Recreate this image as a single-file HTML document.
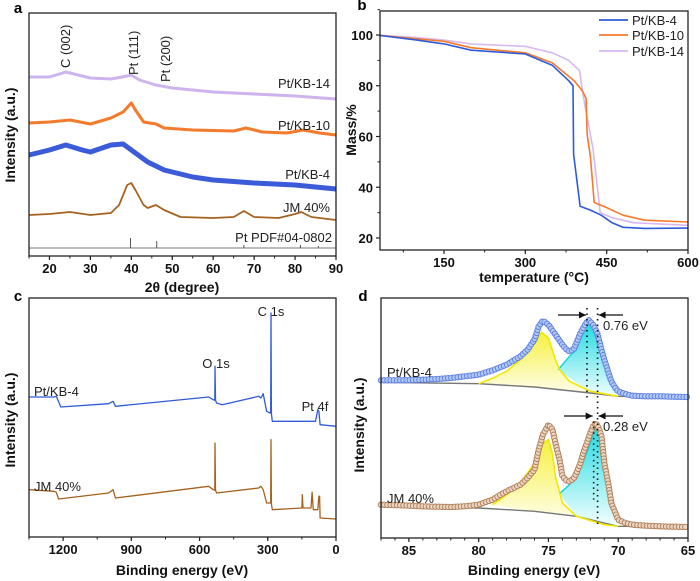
<!DOCTYPE html>
<html><head><meta charset="utf-8">
<style>
html,body{margin:0;padding:0;background:#fff;}
svg{display:block;font-family:"Liberation Sans",Arial,sans-serif;}
.tk{font-size:13px;font-weight:bold;fill:#111;}
.tt{font-size:14px;font-weight:bold;fill:#111;}
.lb{font-size:13px;fill:#222;}
.pl{font-size:15px;font-weight:bold;fill:#000;}
</style></head>
<body>
<svg id="fig" width="700" height="581" viewBox="0 0 700 581" xmlns="http://www.w3.org/2000/svg">
<defs>
<linearGradient id="gy" x1="0" y1="0" x2="0" y2="1"><stop offset="0" stop-color="#f6f040"/><stop offset="1" stop-color="#fffff4"/></linearGradient>
<linearGradient id="gc" x1="0" y1="0" x2="0" y2="1"><stop offset="0" stop-color="#18d8e0"/><stop offset="1" stop-color="#f4ffff"/></linearGradient>
</defs>
<g id="pa"></g><g id="pb"></g><g id="pc"></g><g id="pd"></g>
</svg>
<script>
// ---------- Panel a: XRD ----------
const xrdKB14X=[15,20,24,30,35,39,40,42,46,50,60,70,80,90];
const xrdKB14Y=[179,179,184,178,177,180,181,176,171,168,164,162,160,157];
const xrdKB10X=[15,20,25,30,35,38,40,41,43,46,48,55,65,68,72,78,82,86,90];
const xrdKB10Y=[133,134,136,132,138,144,153,146,134,132,128,126,125,128,124,123,126,123,121];
const xrdKB4X=[15,20,24,28,30,35,38,40,44,48,55,60,70,80,90];
const xrdKB4Y=[101,106,111,106,104,111,112,106,94,86,79,76,73,71,67];
const xrdJMX=[15,20,25,30,35,37,39,40,41,43,44,46,48,52,60,65,67.5,70,76,80,81.5,84,90];
const xrdJMY=[41,42,44,41,43,51,71,73,66,51,48,51,46,39,38,39,45,39,38,42,44,39,36];
const pdfPos=[39.8,46.2,67.5,81.3,85.7];
const pdfInt=[18,15,11,11,10];
const aTicks=[20,30,40,50,60,70,80,90];

// ---------- Panel b: TGA ----------
const tgaKB4T=[32,100,150,200,300,350,380,388,389,392,401,420,440,460,480,520,600];
const tgaKB4M=[99.8,98,96.5,94,92.5,88,82,80,53,48,32.5,31,29,26,24.2,23.8,23.9];
const tgaKB10T=[32,100,150,200,300,350,390,405,412,414,420,427,450,480,520,600];
const tgaKB10M=[99.8,98.5,97.5,95,93,89,82,78,75,61,52,34,32,29,27,26.3];
const tgaKB14T=[32,100,150,200,300,350,380,400,404,410,425,438,460,500,600];
const tgaKB14M=[99.9,99,98,96.5,95.5,93,90,86,80,72,55,30,28,26,25];
const bXTicks=[150,300,450,600];
const bYTicks=[20,40,60,80,100];

// ---------- Panel c: XPS survey ----------
const surKB4E=[1350,1240,1230,1210,1000,980,970,560,540,533,532,530,525,500,340,330,320,305,290,287,286,284,280,150,90,80,75,70,0];
const surKB4I=[420,420,422,390,400,407,392,420,412,410,512,410,402,397,422,417,430,377,372,372,672,370,347,347,347,382,377,337,332];
const surJME=[1350,1240,1230,1220,1000,980,970,560,540,533,532,530,525,340,330,320,305,290,287,286,284,280,150,148,145,110,105,100,80,75,72,70,0];
const surJMI=[142,137,134,114,132,142,117,152,142,140,282,140,132,147,152,142,102,102,102,292,100,82,87,127,87,87,134,82,82,122,122,57,54];
const cTicks=[1200,900,600,300,0];

// ---------- Panel d: Pt 4f ----------
const dKB4E=[87,85.5,84,83,82,81,80,79,78,77,76.5,76,75.7,75.4,75,74.5,74,73.7,73.5,73.2,73,72.7,72.5,72.3,72.1,71.8,71.5,71.2,71,70.7,70.5,70.2,70,69.5,69,68,67,66,65];
const dKB4I=[473,473,475,477,480,485,490,503,520,545,565,595,635,652,640,610,580,565,560,565,585,615,630,645,653,640,615,565,535,495,470,450,440,432,427,425,425,424,423];
const dKB4Fit=[[80,79,78,77,76,75.5,75,74.5,74.2,73.5,72,70],[463,479,500,535,585,617,600,535,505,470,440,425]];
const dKB4Cyan=[[74.3,73.5,73,72.5,72.1,71.5,71,70.5,70,69],[505,545,565,625,653,595,525,465,435,423]];
const dKB4Base=[[87,80,76,72,70,65],[467,463,453,435,425,423]];
const dJME=[87,85.5,84,83,82,81,80,79.5,79,78.5,78,77.5,77,76.5,76,75.7,75.4,75,74.7,74.5,74.2,74,73.7,73.5,73.2,73,72.7,72.5,72.2,72,71.8,71.6,71.4,71.2,71,70.7,70.5,70.2,70,69.5,69,68,67,66,65];
const dJMI=[100,98,95,94,93,95,100,108,115,128,140,150,160,180,205,265,310,340,325,285,235,185,172,170,178,195,225,255,290,315,335,345,330,305,225,160,105,75,55,45,40,37,35,34,33];
const dJMFit=[[79,78,77,76,75.5,75,74.7,74.5,74,73,71,70],[100,130,165,225,280,295,250,185,105,65,40,35]];
const dJMCyan=[[74.2,73.5,73,72.5,72,71.6,71.2,70.8,70.4,70],[133,160,185,230,285,345,275,165,85,55]];
const dJMBase=[[87,80,76,73,71,70,65],[95,90,80,65,45,35,33]];
const dTicks=[85,80,75,70,65];

const NS="http://www.w3.org/2000/svg";
function mk(parent,tag,attrs,txt){const e=document.createElementNS(NS,tag);for(const k in attrs)e.setAttribute(k,attrs[k]);if(txt!==undefined)e.textContent=txt;parent.appendChild(e);return e;}
function lin(d0,d1,r0,r1){return v=>r0+(v-d0)*(r1-r0)/(d1-d0);}
function path(xs,ys,sx,sy){return xs.map((x,i)=>(i?"L":"M")+sx(x).toFixed(1)+","+sy(ys[i]).toFixed(1)).join("");}

function frame(g,x0,y0,x1,y1){
  const r=mk(g,"rect",{x:x0,y:y0,width:x1-x0,height:y1-y0,fill:"none",stroke:"#222","stroke-width":1.3});
  
  
}
function xTicks(g,vals,sx,y,minorStep,dmin,dmax,pref){
  vals.forEach(v=>{
    const l=mk(g,"line",{x1:sx(v),x2:sx(v),y1:y,y2:y+4,stroke:"#222","stroke-width":1.2});
    
    
    const t=mk(g,"text",{x:sx(v),y:y+17,"text-anchor":"middle",class:"tk"},String(v));
    
    
  });
  for(let v=Math.ceil(Math.min(dmin,dmax)/minorStep)*minorStep;v<=Math.max(dmin,dmax);v+=minorStep){
    const m=mk(g,"line",{x1:sx(v),x2:sx(v),y1:y,y2:y+2.5,stroke:"#222","stroke-width":1});
    
    
  }
}
function txt(g,x,y,s,cls,name,anchor,rot){
  const a={x:x,y:y,class:cls,"text-anchor":anchor||"start"};
  if(rot)a.transform="rotate(-90 "+x+" "+y+")";
  const t=mk(g,"text",a,s);
  
  
  return t;
}
function line(g,xs,ys,sx,sy,col,w,name){
  const p=mk(g,"path",{d:path(xs,ys,sx,sy),fill:"none",stroke:col,"stroke-width":w,"stroke-linejoin":"round"});
  
  
  return p;
}

// ===== Panel a =====
(function(){
  const g=document.getElementById("pa");
  const sx=lin(15,90,29,336), sy=lin(0,243,256,13);
  line(g,xrdKB14X,xrdKB14Y,sx,sy,"#cdb4ee",3,"series-pt-kb-14");
  line(g,xrdKB10X,xrdKB10Y,sx,sy,"#f47a2c",3,"series-pt-kb-10");
  line(g,xrdKB4X,xrdKB4Y,sx,sy,"#3b5bd9",5,"series-pt-kb-4");
  line(g,xrdJMX,xrdJMY,sx,sy,"#a5621e",1.8,"series-jm-40");
  const bl=mk(g,"line",{x1:29,x2:336,y1:sy(8),y2:sy(8),stroke:"#777","stroke-width":1});
  
  
  pdfPos.forEach((p,i)=>{
    const s=mk(g,"line",{x1:sx(p),x2:sx(p),y1:sy(8),y2:sy(pdfInt[i]),stroke:"#555","stroke-width":1});
    
    
  });
  frame(g,29,13,336,256);
  xTicks(g,aTicks,sx,256,5,15,90,"a");
  txt(g,18,13,"a","pl","panel-label-a","middle");
  txt(g,182,292,"2θ (degree)","tt","x-axis-title-a","middle");
  txt(g,15,135,"Intensity (a.u.)","tt","y-axis-title-a","middle",true);
  txt(g,70,68,"C (002)","lb","peak-label-c002","start",true);
  txt(g,138,75,"Pt (111)","lb","peak-label-pt111","start",true);
  txt(g,170,82,"Pt (200)","lb","peak-label-pt200","start",true);
  txt(g,330,88,"Pt/KB-14","lb","label-pt-kb-14","end");
  txt(g,330,130,"Pt/KB-10","lb","label-pt-kb-10","end");
  txt(g,330,179,"Pt/KB-4","lb","label-pt-kb-4","end");
  txt(g,330,212,"JM 40%","lb","label-jm-40","end");
  txt(g,332,242,"Pt PDF#04-0802","lb","label-pt-pdf","end");
})();

// ===== Panel b =====
(function(){
  const g=document.getElementById("pb");
  const sx=lin(32,600,380,688), sy=lin(20,100,238,35);
  line(g,tgaKB14T,tgaKB14M,sx,sy,"#d7b8f0",1.6,"series-pt-kb-14");
  line(g,tgaKB10T,tgaKB10M,sx,sy,"#f47a2c",1.6,"series-pt-kb-10");
  line(g,tgaKB4T,tgaKB4M,sx,sy,"#2f5bd8",1.6,"series-pt-kb-4");
  frame(g,380,11,688,250);
  xTicks(g,bXTicks,sx,250,75,32,600,"b");
  bYTicks.forEach(v=>{
    const l=mk(g,"line",{x1:376,x2:380,y1:sy(v),y2:sy(v),stroke:"#222","stroke-width":1.2});
    
    
    txt(g,373,sy(v)+5,String(v),"tk","b-y-tick-label","end");
  });
  for(let v=30;v<=110;v+=20){
    const m=mk(g,"line",{x1:377.5,x2:380,y1:sy(v),y2:sy(v),stroke:"#222","stroke-width":1});
    
    
  }
  txt(g,362,10,"b","pl","panel-label-b","middle");
  txt(g,534,282,"temperature (°C)","tt","x-axis-title-b","middle");
  txt(g,356,130,"Mass/%","tt","y-axis-title-b","middle",true);
  const leg=[["Pt/KB-4","#2f5bd8",20],["Pt/KB-10","#f47a2c",35],["Pt/KB-14","#d7b8f0",51]];
  leg.forEach(l=>{
    const s=mk(g,"line",{x1:599,x2:628,y1:l[2],y2:l[2],stroke:l[1],"stroke-width":1.8});
    
    
    txt(g,632,l[2]+5,l[0],"lb","legend-entry","start");
  });
})();

// ===== Panel c =====
(function(){
  const g=document.getElementById("pc");
  const sx=lin(1350,0,29,336), sy=lin(0,717,537,298);
  line(g,surKB4E,surKB4I,sx,sy,"#2f5bd8",1.3,"series-pt-kb-4");
  line(g,surJME,surJMI,sx,sy,"#a5621e",1.3,"series-jm-40");
  frame(g,29,298,336,537);
  xTicks(g,cTicks,sx,537,150,0,1350,"c");
  txt(g,18,301,"c","pl","panel-label-c","middle");
  txt(g,182,575,"Binding energy (eV)","tt","x-axis-title-c","middle");
  txt(g,15,420,"Intensity (a.u.)","tt","y-axis-title-c","middle",true);
  txt(g,271,316,"C 1s","lb","peak-label-c1s","middle");
  txt(g,216,368,"O 1s","lb","peak-label-o1s","middle");
  txt(g,34,396,"Pt/KB-4","lb","label-pt-kb-4","start");
  txt(g,315,411,"Pt 4f","lb","peak-label-pt4f","middle");
  txt(g,34,491,"JM 40%","lb","label-jm-40","start");
})();

// ===== Panel d =====
(function(){
  const g=document.getElementById("pd");
  const sx=lin(87,65,381,688), sy=lin(0,720,538,298);
  function area(c,base,fill,name){
    let d=path(c[0],c[1],sx,sy);
    const bx=base[0].slice().reverse(), by=base[1].slice().reverse();
    const lo=Math.min(...c[0]), hi=Math.max(...c[0]);
    const bxs=[],bys=[];
    bx.forEach((x,i)=>{if(x>=lo&&x<=hi){bxs.push(x);bys.push(by[i]);}});
    bxs.forEach((x,i)=>{d+="L"+sx(x).toFixed(1)+","+sy(bys[i]).toFixed(1);});
    d+="Z";
    const p=mk(g,"path",{d:d,fill:fill,stroke:"none"});
    
    
  }
  function circlesAlong(pathEl,fill,stroke,name){
    const L=pathEl.getTotalLength();
    for(let s=0;s<=L;s+=3.2){
      const pt=pathEl.getPointAtLength(s);
      const c=mk(g,"circle",{cx:pt.x.toFixed(1),cy:pt.y.toFixed(1),r:2.7,fill:fill,stroke:stroke,"stroke-width":0.9});
      
      
    }
  }
  [[dKB4Cyan,dKB4Fit,dKB4Base,dKB4E,dKB4I,"#b3c8f4","#5a7ede","pt-kb-4"],[dJMCyan,dJMFit,dJMBase,dJME,dJMI,"#ead6c6","#b07c52","jm-40"]].forEach(s=>{
    area(s[0],s[2],"url(#gc)","cyan-component-fill-"+s[7]);
    area(s[1],s[2],"url(#gy)","yellow-component-fill-"+s[7]);
    line(g,s[2][0],s[2][1],sx,sy,"#777",1.4,"background-"+s[7]);
    line(g,s[0][0],s[0][1],sx,sy,"#10d0e0",1.4,"cyan-component-"+s[7]);
    line(g,s[1][0],s[1][1],sx,sy,"#f0e800",1.6,"yellow-component-"+s[7]);
    const fit=line(g,s[3],s[4],sx,sy,"#e52020",1.6,"fit-envelope-"+s[7]);
    const guide=mk(g,"path",{d:path(s[3],s[4],sx,sy),fill:"none",stroke:"none"});
    
    
    circlesAlong(guide,s[5],s[6],"data-point-"+s[7]);
  });
  function dotted(e,i0,i1,name){
    const l=mk(g,"line",{x1:sx(e),x2:sx(e),y1:sy(i0),y2:sy(i1),stroke:"#111","stroke-width":1.6,"stroke-dasharray":"1.5 4"});
    
    
  }
  dotted(72.24,690,410,"peak-marker-pt-kb-4");
  dotted(71.48,690,40,"peak-marker-reference");
  dotted(71.76,350,115,"peak-marker-jm-40");
  function arrow(xa,xb,y,name){
    const l=mk(g,"line",{x1:xa,x2:xb,y1:y,y2:y,stroke:"#111","stroke-width":1.2});
    
    
    const dir=xb>xa?1:-1;
    const h=mk(g,"path",{d:"M"+xb+","+y+"L"+(xb-dir*7)+","+(y-3.5)+"L"+(xb-dir*7)+","+(y+3.5)+"Z",fill:"#111"});
    
    
  }
  arrow(558,sx(72.24)-1,315,"shift-arrow-left-top");
  arrow(623,sx(71.48)+1,315,"shift-arrow-right-top");
  arrow(564,sx(71.76)-1,416,"shift-arrow-left-bottom");
  arrow(623,sx(71.48)+1,416,"shift-arrow-right-bottom");
  txt(g,603,330,"0.76 eV","lb","shift-label-076","start");
  txt(g,603,431,"0.28 eV","lb","shift-label-028","start");
  frame(g,381,298,688,538);
  xTicks(g,dTicks,sx,538,1,65,87,"d");
  txt(g,363,301,"d","pl","panel-label-d","middle");
  txt(g,534,575,"Binding energy (eV)","tt","x-axis-title-d","middle");
  txt(g,364,425,"Intensity (a.u.)","tt","y-axis-title-d","middle",true);
  txt(g,387,377,"Pt/KB-4","lb","label-pt-kb-4","start");
  txt(g,387,503,"JM 40%","lb","label-jm-40","start");
})();
</script>
</body></html>
